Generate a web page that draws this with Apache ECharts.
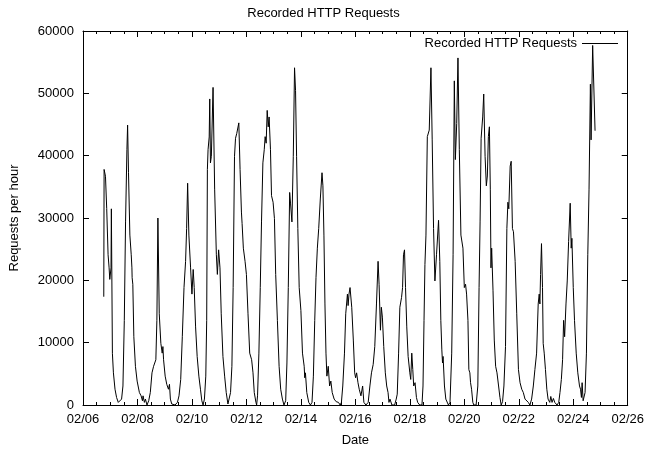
<!DOCTYPE html>
<html>
<head>
<meta charset="utf-8">
<script src="https://cdn.jsdelivr.net/npm/echarts@6/dist/echarts.min.js"></script>
<style>html,body{margin:0;padding:0;background:#fff}#c{width:647px;height:452px}</style>
</head>
<body>
<div id="c"></div>
<script>
// Hours elapsed since 02/06 00:00
const hours = [
18.3,18.6,19.8,20.9,22.1,23.0,23.6,24.7,25.0,25.3,25.9,26.8,28.2,29.6,31.1,32.6,34.0,35.2,36.4,37.5,38.7,39.3,40.1,41.3,42.5,43.1,43.3,43.9,44.8,46.2,47.7,48.5,49.7,51.2,52.4,52.9,54.1,55.0,56.4,57.9,59.3,
60.8,62.2,64.2,65.1,66.0,67.2,68.6,69.8,70.4,71.0,72.4,73.8,75.3,76.2,77.0,78.2,79.7,81.1,83.2,84.6,86.1,87.5,89.0,90.4,91.3,92.2,93.3,94.8,96.0,97.1,98.0,99.2,100.6,102.1,103.5,104.7,105.8,107.0,108.2,109.0,109.6,110.2,111.2,111.7,112.3,113.1,114.6,
116.0,117.5,118.4,119.5,120.7,121.8,123.3,124.8,126.2,127.7,128.8,130.0,131.2,132.3,133.5,134.4,135.5,137.3,138.4,139.6,140.2,141.3,142.8,144.0,145.4,146.9,148.6,149.8,150.9,152.4,153.0,153.8,155.0,156.2,157.3,158.5,159.7,
160.5,161.4,162.3,163.2,164.0,165.2,166.1,167.5,168.7,169.8,171.3,172.8,174.2,175.7,177.1,178.6,179.7,180.9,182.1,182.9,184.1,185.3,186.4,187.3,188.2,189.3,190.5,192.0,192.5,193.4,194.9,195.4,196.0,197.2,198.9,200.4,201.8,203.0,204.2,205.3,206.5,207.7,
209.1,210.6,211.4,212.3,213.2,214.1,214.9,216.1,217.3,218.4,219.6,221.3,223.1,225.1,226.6,227.7,228.9,230.4,231.5,233.0,233.6,234.4,235.3,236.8,238.2,239.4,240.2,241.1,242.3,243.4,244.9,246.4,247.5,249.3,251.3,252.8,254.2,
255.7,257.1,258.6,260.0,260.9,262.1,262.9,263.8,265.0,266.4,267.6,268.8,269.6,270.5,272.2,274.6,276.0,276.9,278.1,279.2,280.7,281.6,282.4,283.3,284.2,285.3,286.5,288.0,288.8,289.7,290.6,291.4,292.6,293.8,294.9,296.7,298.7,299.6,300.5,301.3,
302.2,303.4,305.1,306.6,307.7,308.9,310.1,311.5,313.3,314.4,315.3,316.2,316.8,317.3,318.5,319.7,322.0,323.4,324.9,326.1,327.2,328.1,329.3,330.4,331.6,333.0,334.8,336.0,337.1,338.0,339.2,340.0,340.9,341.5,342.4,343.5,344.4,346.4,347.9,349.0,349.9,350.8,
352.2,353.1,354.3,355.4,356.3,357.2,358.1,358.9,359.5,360.1,361.3,362.4,363.6,364.8,366.2,367.4,368.5,369.7,370.9,372.3,373.5,374.4,375.2,376.4,377.3,378.4,379.3,380.8,382.2,383.7,385.1,386.6,388.0,389.5,390.9,392.4,393.8,395.3,396.8,398.2,399.7,
401.1,402.0,402.6,403.2,404.0,404.9,405.5,406.4,407.5,408.7,409.8,411.3,412.2,413.3,414.5,415.7,417.7,419.2,420.3,421.5,422.6,423.5,424.4,425.6,426.7,427.9,429.3,430.2,430.8,432.0,433.1,434.6,436.0,437.5,438.4,439.2,439.8,440.7,441.6,442.4,443.6,444.8,445.9,447.1,
447.7,449.1,451.2
];
const requests = [
17370,37790,36700,31500,24100,22000,20150,22000,31470,31470,8300,5160,2530,1200,420,160,950,3050,13580,29370,40950,44900,37260,27260,24100,22000,20420,19370,10950,6210,3840,3580,2000,1470,680,1470,420,950,0,680,2000,
5160,6210,7260,13580,30000,14630,9890,8320,9370,7260,4630,3320,2530,3320,950,160,420,0,420,1470,4100,10950,18840,23050,28300,35580,27260,22000,17790,21740,18840,12530,7790,4630,2530,680,0,950,4630,13580,37790,40950,43000,49100,38840,39900,50950,
34630,24100,20950,24890,22000,14630,7790,4630,2000,160,420,2000,6210,18840,39900,42790,43580,45260,37790,30950,29100,25160,23050,20950,14630,8320,7260,5160,2000,420,0,1470,8320,18840,29370,38840,40950,
43050,42000,47260,44630,46210,40950,33580,32530,29900,20950,13580,6210,2530,950,0,680,6740,18840,34100,32260,29370,39900,54100,50420,39900,28320,18840,15160,15420,8320,6210,4370,5160,2000,420,0,420,4630,13580,20420,25160,28320,
33050,37260,35160,27260,16210,8320,4630,6210,3050,3840,2000,950,530,420,0,420,3050,8320,14630,17790,15950,17790,18840,15680,10420,5160,4370,5160,3580,2530,1470,3050,420,0,420,3050,5160,
6500,9370,16210,23050,19370,12000,15680,14100,9370,5160,3050,2000,420,950,0,0,950,1740,8320,15680,17260,18840,24100,24890,18840,12530,7790,5160,4100,8320,5680,3050,3580,1210,420,0,0,3050,13580,22530,
27260,43050,44100,54100,42530,28320,19900,24100,29630,23050,13580,8840,6740,7790,3050,950,0,420,8320,24100,52000,39370,45160,55680,40950,27260,25160,18840,19370,17790,13580,5680,5160,3580,2530,420,0,0,3050,18840,29370,42790,
46210,49890,39900,35160,36740,43050,44630,34630,22000,25160,18320,10420,6210,5160,3050,1210,0,530,3050,9370,28320,32530,31470,38320,39100,28320,27790,23050,14630,5680,3580,2530,2000,950,1050,420,0,950,3050,5680,8320,
16210,17790,16210,20950,25890,18840,9890,8320,5680,2530,950,420,1370,420,1050,420,0,420,2000,4100,7260,13580,10950,16210,19900,26210,32370,25160,26740,18840,13580,8320,5160,3050,2530,1210,3580,680,420,2000,8320,24100,34630,51470,
42530,57680,44000
];
const dateLabels = ['02/06','02/08','02/10','02/12','02/14','02/16','02/18','02/20','02/22','02/24','02/26'];
const seriesName = 'Recorded HTTP Requests';

const FONT = '"Liberation Sans", Arial, sans-serif';
const data = hours.map((h, i) => [h, requests[i]]);
const chart = echarts.init(document.getElementById('c'), null, {renderer: 'canvas'});
const axLine = {show: true, onZero: false, lineStyle: {color: '#000', width: 1}};
const tick = {show: true, inside: true, length: 6, lineStyle: {color: '#000', width: 1}};
const minor = {show: true, splitNumber: 4, length: 3, lineStyle: {color: '#000', width: 1}};
chart.setOption({
  animation: false,
  backgroundColor: '#fff',
  title: {text: 'Recorded HTTP Requests', left: 'center', top: 2,
    textStyle: {fontFamily: FONT, fontSize: 13, fontWeight: 'normal', color: '#000'}},
  legend: {data: [seriesName], right: 24, top: 32, align: 'right', icon: 'rect',
    itemWidth: 36, itemHeight: 1, itemGap: 5,
    textStyle: {fontFamily: FONT, fontSize: 13, color: '#000'}},
  grid: {left: 82, right: 15, top: 31, bottom: 41, containLabel: false},
  xAxis: [{
    type: 'value', min: 0, max: 480, interval: 48, position: 'bottom',
    axisLine: axLine, axisTick: tick, minorTick: minor,
    splitLine: {show: false}, minorSplitLine: {show: false},
    axisLabel: {fontFamily: FONT, fontSize: 13, color: '#000', margin: 8,
      formatter: v => dateLabels[Math.round(v / 48)]},
    name: 'Date', nameLocation: 'middle', nameGap: 29,
    nameTextStyle: {fontFamily: FONT, fontSize: 13, color: '#000'}
  }, {
    type: 'value', min: 0, max: 480, interval: 48, position: 'top',
    axisLine: axLine, axisTick: tick, minorTick: minor,
    splitLine: {show: false}, axisLabel: {show: false}
  }],
  yAxis: [{
    type: 'value', min: 0, max: 60000, interval: 10000, position: 'left',
    axisLine: axLine, axisTick: tick,
    splitLine: {show: false},
    axisLabel: {fontFamily: FONT, fontSize: 13, color: '#000', margin: 9,
      formatter: v => String(v)},
    name: 'Requests per hour', nameLocation: 'middle', nameGap: 62,
    nameTextStyle: {fontFamily: FONT, fontSize: 13, color: '#000'}
  }, {
    type: 'value', min: 0, max: 60000, interval: 10000, position: 'right',
    axisLine: axLine, axisTick: tick,
    splitLine: {show: false}, axisLabel: {show: false}
  }],
  series: [{
    name: seriesName, type: 'line', xAxisIndex: 0, yAxisIndex: 0,
    data: data, showSymbol: false, symbol: 'none',
    lineStyle: {color: '#000', width: 1}, itemStyle: {color: '#000'}
  }]
});
</script>
</body>
</html>
